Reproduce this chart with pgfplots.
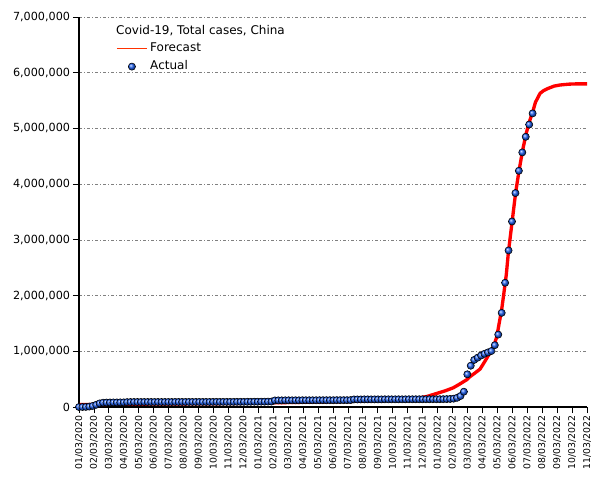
\documentclass[border=0pt]{standalone}
\usepackage{fontspec}
\setmainfont{DejaVu Sans}
\usepackage{pgfplots}
\usepackage{pgfplotstable}
\pgfplotsset{compat=1.18}
\definecolor{ballblue}{RGB}{30,95,240}
\definecolor{fcred}{RGB}{255,0,0}
\definecolor{legred}{RGB}{255,50,0}

\pgfplotsset{
    mkballleg/.style={legend image code/.code={\draw[##1] plot coordinates {(11.25pt,0pt)};}},
    mklineleg/.style={legend image code/.code={\draw[draw=legred, color=legred, line width=1pt] (0pt,0pt) -- (22.5pt,0pt);}},
}

% actual weekly totals (x = months since 01/03/2020)
\pgfplotstableread{
x y
0.00 0
0.23 500
0.46 2000
0.69 8000
0.92 20000
1.15 40000
1.38 65000
1.61 78000
1.84 80000
2.07 81000
2.30 82000
2.53 82000
2.76 83000
2.99 83000
3.22 88000
3.45 89000
3.68 90000
3.91 90000
4.14 90000
4.37 90000
4.60 90000
4.83 90000
5.06 90000
5.29 90000
5.52 90000
5.75 90000
5.98 90000
6.21 90000
6.44 91000
6.67 91000
6.90 91000
7.13 91000
7.36 91000
7.59 91000
7.82 91000
8.05 91000
8.28 91000
8.51 91000
8.74 91000
8.97 92000
9.20 92000
9.43 92000
9.66 92000
9.89 92000
10.12 92000
10.35 92000
10.58 93000
10.81 93000
11.04 93000
11.27 94000
11.50 94000
11.73 95000
11.96 95000
12.19 96000
12.42 96000
12.65 97000
12.88 98000
13.11 118000
13.34 119000
13.57 119000
13.80 120000
14.03 120000
14.26 120000
14.49 120000
14.72 120000
14.95 121000
15.18 121000
15.41 121000
15.64 121000
15.87 121000
16.10 122000
16.33 122000
16.56 122000
16.79 122000
17.02 122000
17.25 123000
17.48 123000
17.71 123000
17.94 123000
18.17 124000
18.40 136000
18.63 136000
18.86 136000
19.09 137000
19.32 137000
19.55 137000
19.78 137000
20.01 137000
20.24 137000
20.47 138000
20.70 138000
20.93 138000
21.16 138000
21.39 138000
21.62 138000
21.85 138000
22.08 139000
22.31 139000
22.54 139000
22.77 139000
23.00 139000
23.23 139000
23.46 140000
23.69 140000
23.92 140000
24.15 140000
24.38 141000
24.61 142000
24.84 145000
25.07 150000
25.30 165000
25.53 197000
25.76 275000
25.99 587000
26.22 741000
26.45 845000
26.68 885000
26.91 925000
27.14 955000
27.37 980000
27.60 1005000
27.83 1110000
28.06 1300000
28.29 1690000
28.52 2230000
28.75 2810000
28.98 3330000
29.21 3840000
29.44 4240000
29.67 4570000
29.90 4850000
30.13 5070000
30.36 5270000
}\actual

% forecast curve
\pgfplotstableread{
x y
0.00 45000
3.00 50000
6.00 55000
9.00 60000
12.00 70000
14.00 80000
16.00 90000
18.00 100000
19.50 110000
20.50 120000
21.50 135000
22.30 150000
22.80 165000
23.30 190000
23.90 240000
24.50 290000
25.05 345000
25.50 415000
25.95 490000
26.17 545000
26.50 610000
26.84 680000
27.05 770000
27.29 875000
27.45 950000
27.62 1020000
27.78 1110000
27.96 1260000
28.12 1500000
28.29 1750000
28.44 2050000
28.60 2380000
28.74 2780000
28.99 3330000
29.22 3840000
29.45 4240000
29.68 4590000
29.91 4890000
30.14 5120000
30.37 5300000
30.55 5470000
30.86 5630000
31.10 5680000
31.41 5720000
31.80 5760000
32.20 5780000
32.80 5795000
33.30 5800000
34.00 5800000
}\forecast

\begin{document}
\begin{tikzpicture}
\path[use as bounding box] (-59.25pt,-54.75pt) rectangle (394.5pt,305.25pt);
\begin{axis}[
    scale only axis,
    width=381pt, height=292.5pt,
    xmin=0, xmax=34,
    ymin=0, ymax=7000000,
    axis x line=bottom, axis y line=left,
    axis line style={-, black, line width=0.8pt},
    tick align=outside,
    major tick length=4.5pt,
    tick style={black, line width=0.6pt},
    xtick={0,1,2,3,4,5,6,7,8,9,10,11,12,13,14,15,16,17,18,19,20,21,22,23,24,25,26,27,28,29,30,31,32,33,34},
    xticklabels={01/03/2020,02/03/2020,03/03/2020,04/03/2020,05/03/2020,06/03/2020,07/03/2020,08/03/2020,09/03/2020,10/03/2020,11/03/2020,12/03/2020,01/03/2021,02/03/2021,03/03/2021,04/03/2021,05/03/2021,06/03/2021,07/03/2021,08/03/2021,09/03/2021,10/03/2021,11/03/2021,12/03/2021,01/03/2022,02/03/2022,03/03/2022,04/03/2022,05/03/2022,06/03/2022,07/03/2022,08/03/2022,09/03/2022,10/03/2022,11/03/2022},
    xticklabel style={rotate=90, anchor=east, font=\fontsize{7}{8}\selectfont, inner sep=2pt},
    ytick={0,1000000,2000000,3000000,4000000,5000000,6000000,7000000},
    scaled y ticks=false,
    /pgf/number format/assume math mode=true,
    yticklabel style={/pgf/number format/fixed, /pgf/number format/1000 sep={,}, font=\fontsize{8.4}{10}\selectfont, inner sep=2pt},
    ymajorgrids=true,
    grid style={gray, line width=0.5pt, dash pattern=on 2.25pt off 1.5pt on 0.75pt off 1.5pt},
    reverse legend,
    legend cell align=left,
    legend style={at={(rel axis cs:0.0728,0.935)}, anchor=north west, draw=none, fill=none,
        font=\fontsize{9}{10}\selectfont, inner sep=0pt, row sep=4.5pt, column sep=2pt,
        nodes={inner sep=0pt, text height=7pt, text depth=2pt}},
]
\addplot[only marks, mark=ball, mark size=2.7pt, mark options={ball color=ballblue}, mkballleg]
    table[x=x, y=y] {\actual};
\addlegendentry{Actual}
\addplot[fcred, line width=2.5pt, no marks, mklineleg]
    table[x=x, y=y] {\forecast};
\addlegendentry{Forecast}
\node[anchor=west, inner sep=0pt, font=\fontsize{9}{10}\selectfont] at (rel axis cs:0.0728,0.966) {Covid-19, Total cases, China};
\end{axis}
\end{tikzpicture}
\end{document}
